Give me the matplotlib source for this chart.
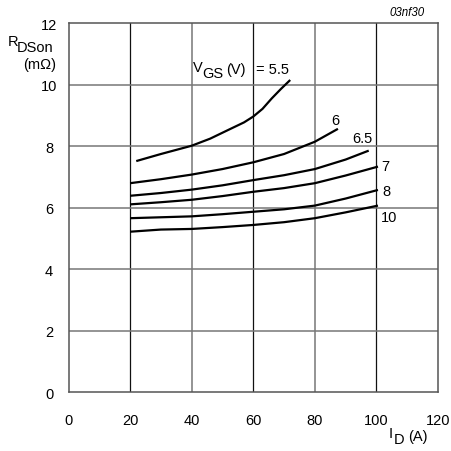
import matplotlib
matplotlib.use("Agg")
import matplotlib.pyplot as plt

plt.rcParams['font.family'] = ['Liberation Sans', 'DejaVu Sans']

# Data (I_D in A, R_DSon in mOhm)
id_55 = [22, 30, 40, 46, 52, 57, 60, 63, 66, 69, 72]
r_55 = [7.52, 7.75, 8.02, 8.25, 8.54, 8.78, 8.97, 9.22, 9.56, 9.87, 10.16]

id_6 = [20, 30, 40, 50, 60, 70, 80, 87.5]
r_6 = [6.8, 6.93, 7.08, 7.26, 7.48, 7.75, 8.15, 8.57]

id_65 = [20, 30, 40, 50, 60, 70, 80, 90, 97.5]
r_65 = [6.39, 6.48, 6.59, 6.73, 6.9, 7.06, 7.26, 7.57, 7.86]

id_7 = [20, 30, 40, 50, 60, 70, 80, 90, 100.5]
r_7 = [6.11, 6.18, 6.26, 6.38, 6.52, 6.64, 6.8, 7.05, 7.34]

id_8 = [20, 30, 40, 50, 60, 70, 80, 90, 100.5]
r_8 = [5.66, 5.69, 5.72, 5.79, 5.87, 5.95, 6.07, 6.3, 6.58]

id_10 = [20, 30, 40, 50, 60, 70, 80, 90, 100.5]
r_10 = [5.22, 5.29, 5.31, 5.37, 5.44, 5.53, 5.66, 5.85, 6.07]

x_ticks = [0, 20, 40, 60, 80, 100, 120]
y_ticks = [0, 2, 4, 6, 8, 10, 12]

W, H = 451, 452
FS = 10.5

fig = plt.figure(figsize=(W / 100, H / 100), dpi=100)
ax = fig.add_axes([0.1519, 0.1305, 0.8193, 0.8153])
ax.set_xlim(0, 120)
ax.set_ylim(0, 12)

# grid
for xv in x_ticks[1:-1]:
    if xv in (20, 60, 100):
        ax.axvline(xv, color='#111111', lw=0.9, zorder=1)
    else:
        ax.axvline(xv, color='#777777', lw=1.1, zorder=1)
for yv in y_ticks[1:-1]:
    ax.axhline(yv, color='#777777', lw=1.1, zorder=1)

for xs, ys in [(id_55, r_55), (id_6, r_6), (id_65, r_65),
               (id_7, r_7), (id_8, r_8), (id_10, r_10)]:
    ax.plot(xs, ys, color='black', lw=1.6, zorder=3,
            solid_capstyle='butt', solid_joinstyle='round')

for s in ax.spines.values():
    s.set_color('#555555')
    s.set_linewidth(1.1)

ax.set_xticks(x_ticks)
ax.set_yticks(y_ticks)
ax.tick_params(length=0, labelsize=FS, colors='black')
ax.tick_params(axis='x', pad=15)
ax.tick_params(axis='y', pad=14)
for lab in ax.get_yticklabels():
    lab.set_horizontalalignment('center')


def ftext(px, py, s, **kw):
    fig.text(px / W, 1 - py / H, s, fontsize=FS, va='center', **kw)


# curve labels
ftext(192.5, 68.5, 'V', ha='left')
ftext(202, 73.5, 'GS', ha='left')
ftext(236, 70.5, '(V)', ha='center')
ftext(256, 70.5, '= 5.5', ha='left')
ax.text(86.5, 8.87, '6', fontsize=FS, ha='center', va='center')
ax.text(95.5, 8.27, '6.5', fontsize=FS, ha='center', va='center')
ax.text(102.9, 7.37, '7', fontsize=FS, ha='center', va='center')
ax.text(103.3, 6.56, '8', fontsize=FS, ha='center', va='center')
ax.text(104.0, 5.7, '10', fontsize=FS, ha='center', va='center')

# axis labels
ftext(8, 42.5, 'R', ha='left')
ftext(17, 48.5, 'DSon', ha='left')
ftext(39.5, 65, '(m\u03a9)', ha='center')
ftext(389, 434.5, 'I', ha='left')
ftext(394, 440, 'D', ha='left')
ftext(408, 437.5, '(A)', ha='left')
fig.text(425 / W, 1 - 13.5 / H, '03nf30', fontsize=8.3, style='italic',
         ha='right', va='center')

fig.savefig('out.png', dpi=100)
